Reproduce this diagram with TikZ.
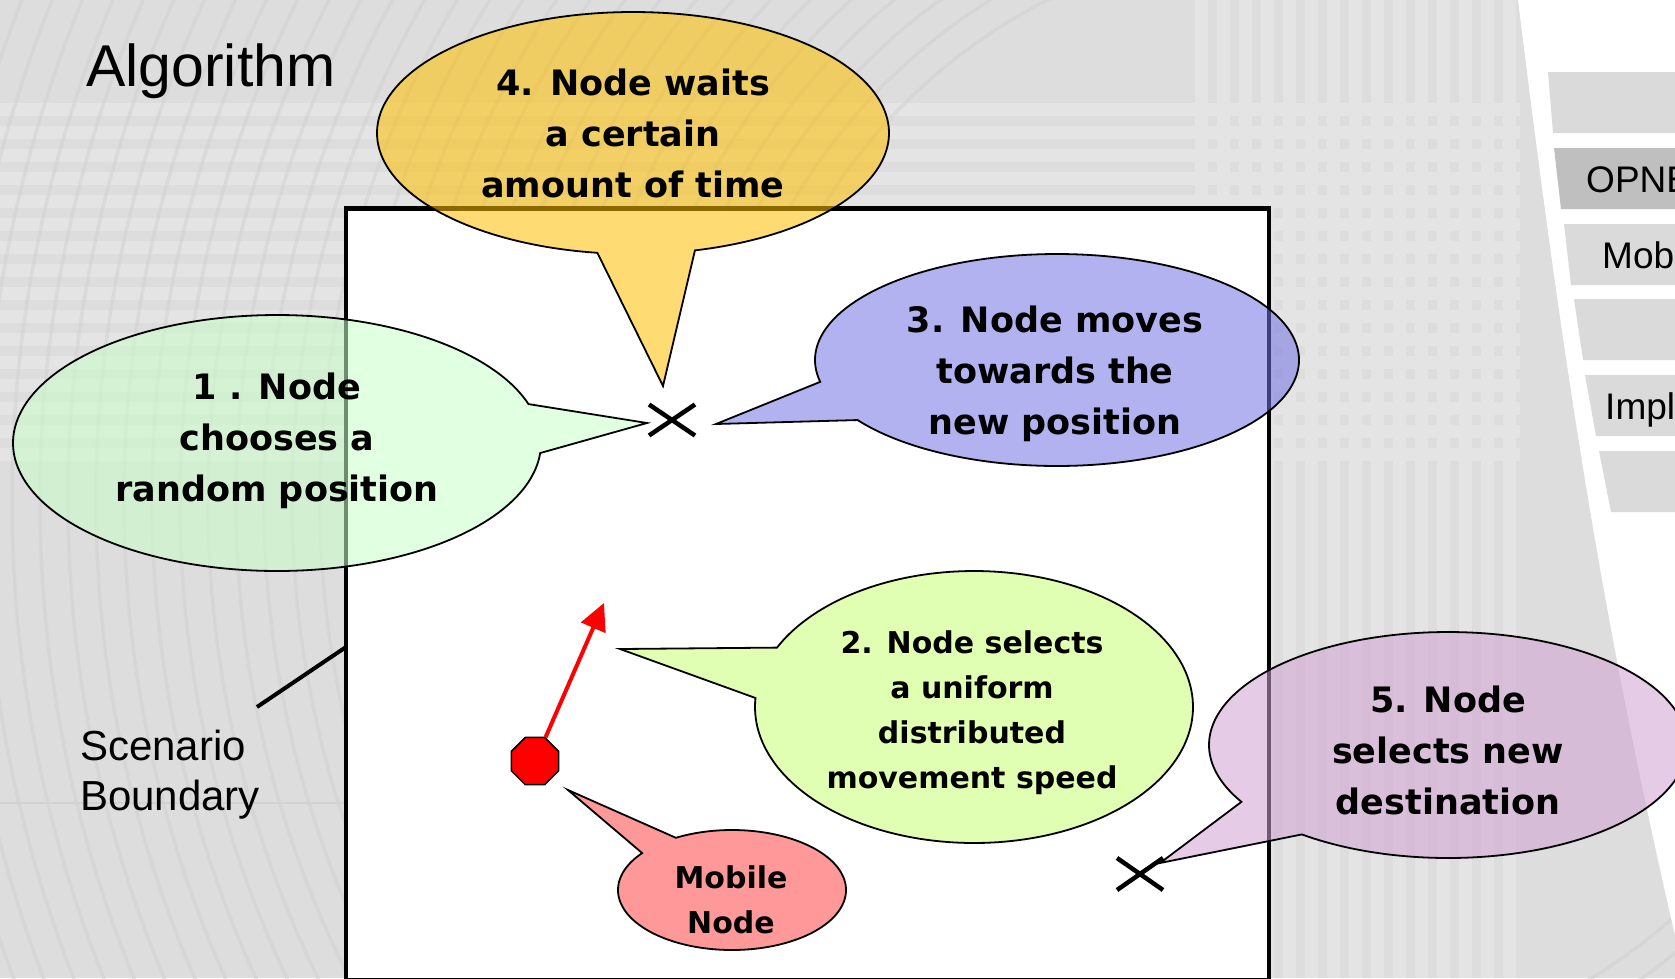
\documentclass[tikz,border=0pt]{standalone}
\usepackage{fontspec}
\setmainfont{Liberation Sans}
\newfontfamily\comicf{DejaVu Sans}
\usetikzlibrary{arrows.meta,shapes.geometric}
\definecolor{bgg}{HTML}{DDDDDD}
\definecolor{bglite}{HTML}{E4E4E4}
\definecolor{bgdark}{HTML}{D2D2D2}
\definecolor{tabg}{HTML}{DADADA}
\definecolor{tabdark}{HTML}{BFBFBF}
\definecolor{cyel}{HTML}{FFC000}
\definecolor{cgrn}{HTML}{CAFFCA}
\definecolor{cblu}{HTML}{7373E4}
\definecolor{clime}{HTML}{CAFF73}
\definecolor{cpink}{HTML}{FF4646}
\definecolor{cpur}{HTML}{D1A2D1}
\tikzset{
  bubble/.style={draw=black, line width=1.8pt, fill opacity=0.55, line join=miter},
  btext/.style={align=center, inner sep=0pt, font=\comicf\bfseries\fontsize{35}{51}\selectfont},
  stext/.style={align=center, inner sep=0pt, font=\comicf\bfseries\fontsize{30}{45}\selectfont},
  xmark/.style={draw=black, line width=4.5pt},
  tabbox/.style={fill=tabg},
  arial/.style={anchor=base west, inner sep=0pt},
  octa/.style={regular polygon, regular polygon sides=8, minimum size=51pt, inner sep=0pt, fill=red, draw=black, line width=1.5pt},
}
\newcommand{\mybubble}[8]{%
  \draw[bubble,#1] (#2) -- plot[domain=#7:#8, samples=200, variable=\t] ({#3+#5*cos(\t)},{#4+#6*sin(\t)}) -- cycle;}
\begin{document}
\begin{tikzpicture}[x=1pt,y=-1pt]
\useasboundingbox (0,0) rectangle (1675,978);
\clip (0,0) rectangle (1675,978);
% background
\fill[bgg] (0,0) rectangle (1675,978);
\foreach \yy in {103,126,...,460} \fill[bglite] (0,\yy) rectangle (1520,\yy+13);
\foreach \xx in {1195,1217,...,1520} \fill[bglite] (\xx,0) rectangle (\xx+13,978);
\draw[bgdark, line width=2pt] (0,803) -- (346,803);
\foreach \r in {560,588,...,1400} \draw[bgdark, line width=3.5pt, opacity=0.55] (1300,500) circle[radius=\r];
% right white region and tabs
\fill[white] (1518,0) .. controls (1565,380) and (1605,640) .. (1685,978) -- (1685,0) -- cycle;
\fill[tabbox] (1548,72) -- (1553,133) -- (1680,133) -- (1680,72) -- cycle;
\fill[tabdark] (1554,148) -- (1561,209) -- (1680,209) -- (1680,148) -- cycle;
\fill[tabbox] (1564,224) -- (1571,285) -- (1680,285) -- (1680,224) -- cycle;
\fill[tabbox] (1574,299) -- (1583,360) -- (1680,360) -- (1680,299) -- cycle;
\fill[tabbox] (1585,375) -- (1596,436) -- (1680,436) -- (1680,375) -- cycle;
\fill[tabbox] (1599,451) -- (1611,512) -- (1680,512) -- (1680,451) -- cycle;
\node[arial, font=\fontsize{37}{37}\selectfont] (tabA) at (1586,192) {OPNE};
\node[arial, font=\fontsize{37}{37}\selectfont] (tabB) at (1602,268) {Mob};
\node[arial, font=\fontsize{37}{37}\selectfont] (tabC) at (1605,419) {Impl};
% title and label
\node[arial, font=\fontsize{59}{59}\selectfont] (title) at (86,86) {Algorithm};
\node[arial, font=\fontsize{42}{50}\selectfont] (sc1) at (80,760) {Scenario};
\node[arial, font=\fontsize{42}{50}\selectfont] (sc2) at (80,810) {Boundary};
% scenario box
\node[draw=black, line width=4.5pt, fill=white, minimum width=923pt, minimum height=772pt,
      inner sep=0pt, outer sep=0pt, anchor=north west] (box) at (346,208.5) {};
\coordinate (sbA) at (346,647);
\coordinate (sbB) at (257,707);
\draw[line width=4pt] (sbA) -- (sbB);
% tips
\coordinate (tip4) at (663,386);
\coordinate (tip1) at (647,423);
\coordinate (tip3) at (716,424);
\coordinate (tip2) at (620,649);
\coordinate (tipM) at (568,790);
\coordinate (tip5) at (1160,863);
% callouts
\mybubble{fill=cyel}{tip4}{633}{133}{256}{121}{98}{436}
\mybubble{fill=cgrn}{tip1}{277}{443}{264}{128}{4.5}{342.3}
\mybubble{fill=cblu}{tip3}{1057}{360}{242}{106}{168.1}{505.5}
\mybubble{fill=clime}{tip2}{974}{707}{219}{136}{205.9}{543.8}
\mybubble{fill=cpink}{tipM}{732}{890}{114}{60}{240.5}{578}
\mybubble{fill=cpur}{tip5}{1448}{745}{239}{113}{149.8}{487.7}
% x marks
\coordinate (xA) at (672,420);
\coordinate (xB) at (1140,874);
\draw[xmark] (xA) ++(-23,-15.5) -- ++(46,31) (xA) ++(-23,15.5) -- ++(46,-31);
\draw[xmark] (xB) ++(-23,-16) -- ++(46,32) (xB) ++(-23,16) -- ++(46,-32);
% mobile node and arrow
\node[octa] (mn) at (535,761) {};
\coordinate (atip) at (604,603);
\draw[red, line width=4pt, -{Triangle[length=27pt,width=26pt]}] (mn.66) -- (atip);
% texts
\node[btext] (t4) at (633,136) {\strut 4. Node waits\\\strut a certain\\\strut amount of time};
\node[btext] (t1) at (277,440) {\strut 1 . Node\\\strut chooses a\\\strut random position};
\node[btext] (t3) at (1055,373) {\strut 3. Node moves\\\strut towards the\\\strut new position};
\node[stext] (t2) at (972,712) {\strut 2. Node selects\\\strut a uniform\\\strut distributed\\\strut movement speed};
\node[stext] (tm) at (731,902) {\strut Mobile\\\strut Node};
\node[btext] (t5) at (1448,753) {\strut 5. Node\\\strut selects new\\\strut destination};
\end{tikzpicture}
\end{document}
